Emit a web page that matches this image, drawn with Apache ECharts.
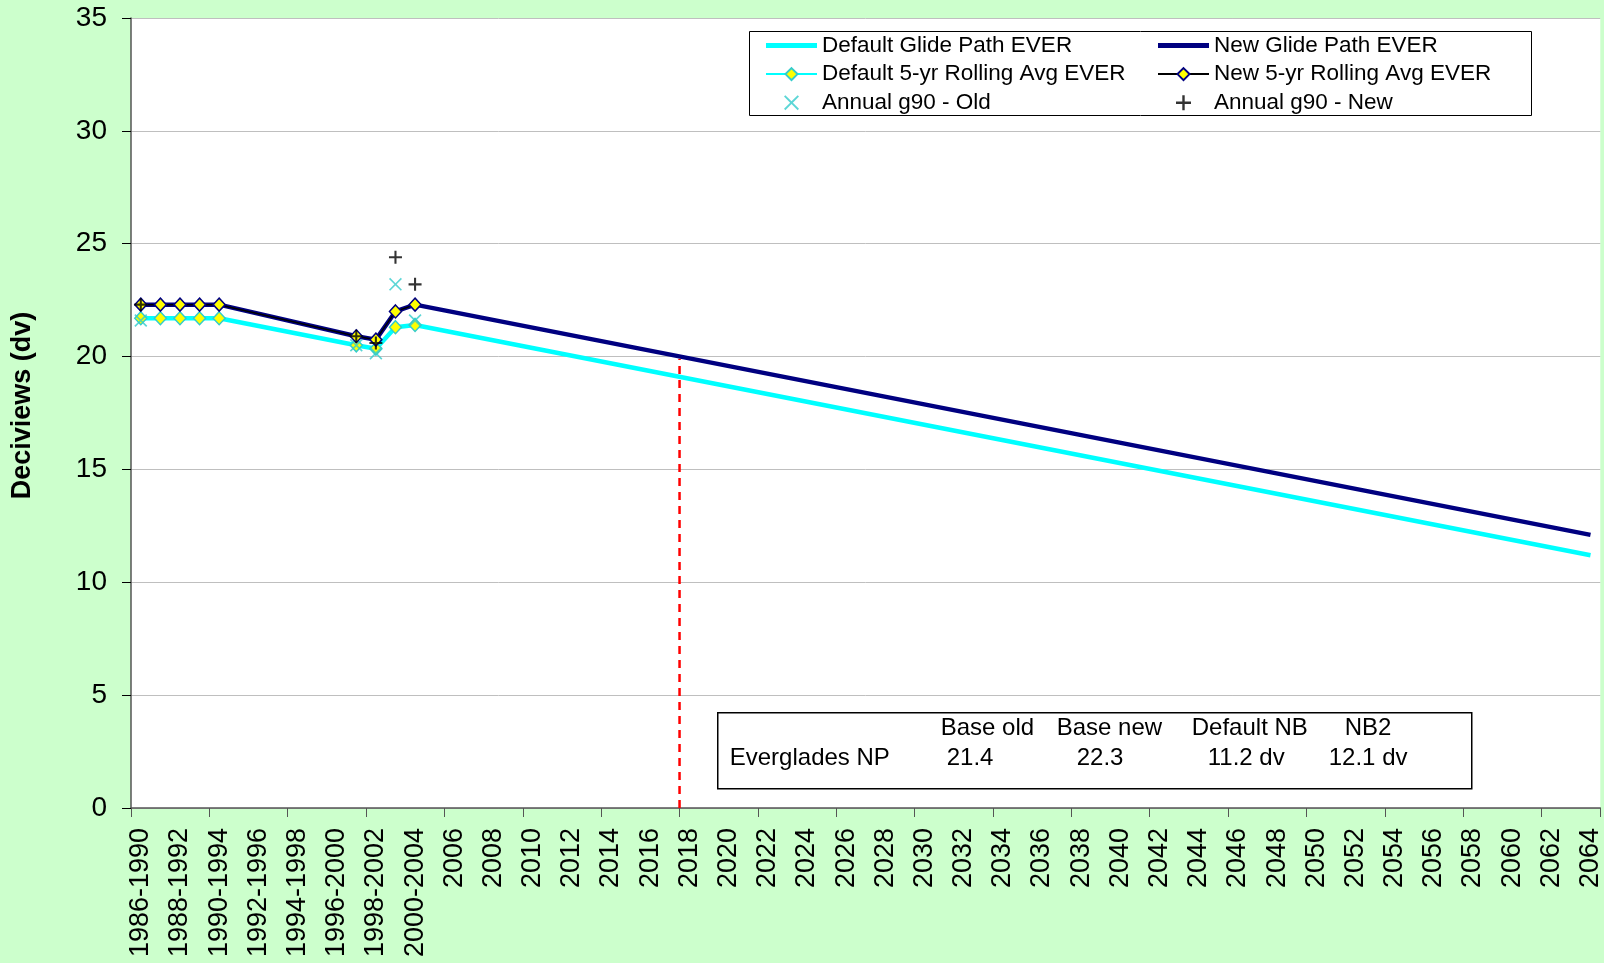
<!DOCTYPE html>
<html>
<head>
<meta charset="utf-8">
<title>Everglades NP glide path</title>
<script src="https://cdn.jsdelivr.net/npm/echarts@6/dist/echarts.min.js"></script>
<style>
  html, body { margin: 0; padding: 0; background: #ccffcc; }
  #main { width: 1604px; height: 963px; }
</style>
</head>
<body>
<div id="main"></div>
<script>
// categories: 5-yr baseline windows, then single years to 2064
const baseYears = ['1986-1990', '1987-1991', '1988-1992', '1989-1993', '1990-1994', '1991-1995',
  '1992-1996', '1993-1997', '1994-1998', '1995-1999', '1996-2000', '1997-2001', '1998-2002',
  '1999-2003', '2000-2004']
const laterYears = []
for (let y = 2005; y <= 2064; y++) laterYears.push(String(y))
const categories = baseYears.concat(laterYears)

// values (null = no point)
const defaultRolling = [21.7, 21.7, 21.7, 21.7, 21.7, null, null, null, null, null, null, 20.5, 20.35, 21.3, 21.4]
const newRolling = [22.3, 22.3, 22.3, 22.3, 22.3, null, null, null, null, null, null, 20.9, 20.75, 22.0, 22.3]
const annualOld = [21.6, null, null, null, null, null, null, null, null, null, null, 20.5, 20.15, 23.2, 21.6]
const annualNew = [22.3, null, null, null, null, null, null, null, null, null, null, 20.9, 20.6, 24.4, 23.2]
const defaultEnd2064 = 11.2
const newEnd2064 = 12.1

// red marker at 2018 (category boundary index) from 0 up to the new glide path
const year2018Index = 28
const markerTop = 19.9

// summary table
const tableHeader = ['Base old', 'Base new', 'Default NB', 'NB2']
const tableRowName = 'Everglades NP'
const tableValues = ['21.4', '22.3', '11.2 dv', '12.1 dv']

const pad = (arr, last) => {
  const out = arr.slice()
  while (out.length < categories.length) out.push(null)
  out[categories.length - 1] = last
  return out
}
const padOnly = (arr) => {
  const out = arr.slice()
  while (out.length < categories.length) out.push(null)
  return out
}

const glideOld = pad(defaultRolling, defaultEnd2064)
const glideNew = pad(newRolling, newEnd2064)

const FONT = 'Liberation Sans, Arial, sans-serif'
const plusPath = 'path://M4.2,0 H5.8 V4.2 H10 V5.8 H5.8 V10 H4.2 V5.8 H0 V4.2 H4.2 Z'
const crossPath = 'path://M0,0.9 L0.9,0 L5,4.1 L9.1,0 L10,0.9 L5.9,5 L10,9.1 L9.1,10 L5,5.9 L0.9,10 L0,9.1 L4.1,5 Z'
const barIcon = 'path://M0,0 H51 V5 H0 Z'

const chart = echarts.init(document.getElementById('main'))

const legendText = { fontSize: 22.5, color: '#000', fontFamily: FONT, lineHeight: 22 }

const option = {
  backgroundColor: '#ccffcc',
  animation: false,
  textStyle: { fontFamily: FONT },
  grid: {
    left: 131, right: 3, top: 18, bottom: 155,
    show: true, backgroundColor: '#ffffff', borderWidth: 0
  },
  legend: [
    {
      orient: 'vertical', left: 760, top: 29, itemGap: 5.6,
      itemWidth: 51, itemHeight: 15,
      textStyle: legendText,
      data: [
        { name: 'Default Glide Path EVER', icon: barIcon },
        'Default 5-yr Rolling Avg EVER',
        'Annual g90 - Old'
      ]
    },
    {
      orient: 'vertical', left: 1152, top: 29, itemGap: 5.6,
      itemWidth: 51, itemHeight: 15,
      textStyle: legendText,
      data: [
        { name: 'New Glide Path EVER', icon: barIcon },
        'New 5-yr Rolling Avg EVER',
        'Annual g90 - New'
      ]
    }
  ],
  xAxis: [
    {
      type: 'category',
      data: categories,
      boundaryGap: true,
      axisLine: { show: true, lineStyle: { color: '#555', width: 1.5 } },
      axisTick: { show: true, interval: 3, length: 9, lineStyle: { color: '#555' } },
      axisLabel: {
        interval: 1, rotate: 90, margin: 20,
        fontSize: 27, color: '#000', fontFamily: FONT
      },
      splitLine: { show: false }
    },
    {
      type: 'value', min: 0, max: categories.length, show: false
    }
  ],
  yAxis: {
    type: 'value', min: 0, max: 35, interval: 5,
    name: 'Deciviews (dv)', nameLocation: 'middle', nameRotate: 90, nameGap: 95,
    nameTextStyle: { fontSize: 27, fontWeight: 'bold', color: '#000', fontFamily: FONT, padding: [0, 0, 0, 15] },
    axisLine: { show: true, lineStyle: { color: '#555', width: 1.5 } },
    axisTick: { show: true, length: 9, lineStyle: { color: '#000' } },
    axisLabel: { fontSize: 28, color: '#000', margin: 24, fontFamily: FONT },
    splitLine: { show: true, lineStyle: { color: '#bfbfbf', width: 1 } }
  },
  series: [
    {
      name: 'Default Glide Path EVER', type: 'line', data: glideOld,
      connectNulls: true, symbol: 'none', z: 2,
      itemStyle: { color: '#00ffff' },
      lineStyle: { color: '#00ffff', width: 4.5 }
    },
    {
      name: 'New Glide Path EVER', type: 'line', data: glideNew,
      connectNulls: true, symbol: 'none', z: 2,
      itemStyle: { color: '#000080' },
      lineStyle: { color: '#000080', width: 4.5 }
    },
    {
      name: 'Default 5-yr Rolling Avg EVER', type: 'line', data: padOnly(defaultRolling),
      connectNulls: true, symbol: 'diamond', symbolSize: [12, 13], z: 3,
      itemStyle: { color: '#ffff00', borderColor: '#33cccc', borderWidth: 1.5 },
      lineStyle: { color: '#00ffff', width: 1.5 }
    },
    {
      name: 'New 5-yr Rolling Avg EVER', type: 'line', data: padOnly(newRolling),
      connectNulls: true, symbol: 'diamond', symbolSize: [12, 13], z: 3,
      itemStyle: { color: '#ffff00', borderColor: '#000080', borderWidth: 1.5 },
      lineStyle: { color: '#000000', width: 1.5 }
    },
    {
      name: 'Annual g90 - Old', type: 'scatter', data: padOnly(annualOld),
      symbol: crossPath, symbolSize: 13, z: 4,
      itemStyle: { color: '#33cccc' }
    },
    {
      name: 'Annual g90 - New', type: 'scatter', data: padOnly(annualNew),
      symbol: plusPath, symbolSize: 13, z: 5,
      itemStyle: { color: '#000000' }
    },
    {
      name: '2018', type: 'line', xAxisIndex: 1,
      data: [[year2018Index, 0], [year2018Index, markerTop]],
      symbol: 'none', z: 1, silent: true,
      lineStyle: { color: '#ff0000', width: 2.5, type: [8, 6] }
    }
  ],
  graphic: [
    {
      type: 'rect', left: 749, top: 31, z: 0,
      shape: { width: 782, height: 84 },
      style: { fill: '#ffffff', stroke: '#000', lineWidth: 1 }
    },
    {
      type: 'group', left: 717, top: 712, z: 100,
      children: [
        {
          type: 'rect', shape: { x: 0, y: 0, width: 754, height: 76 },
          style: { fill: '#ffffff', stroke: '#000', lineWidth: 1.5 }
        },
        { type: 'text', x: 12, y: 46, style: { text: tableRowName, font: '24px ' + FONT, fill: '#000', textVerticalAlign: 'middle' } }
      ].concat(tableHeader.map((h, i) => ({
        type: 'text', x: [223, 339, 474, 627][i], y: 16,
        style: { text: h, font: '24px ' + FONT, fill: '#000', textVerticalAlign: 'middle' }
      }))).concat(tableValues.map((v, i) => ({
        type: 'text', x: [229, 359, 490, 611][i], y: 46,
        style: { text: v, font: '24px ' + FONT, fill: '#000', textVerticalAlign: 'middle' }
      })))
    }
  ]
}

chart.setOption(option)
</script>
</body>
</html>
